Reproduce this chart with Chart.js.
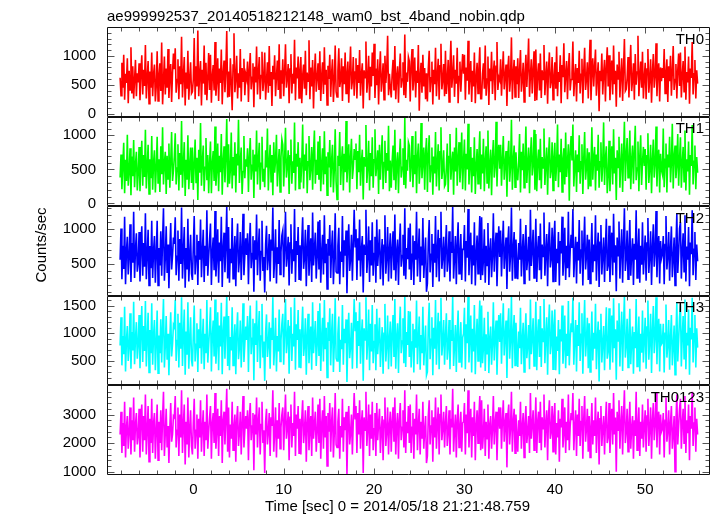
<!DOCTYPE html>
<html><head><meta charset="utf-8">
<script src="https://cdn.jsdelivr.net/npm/chart.js@4.4.0/dist/chart.umd.min.js"></script>
<style>html,body{margin:0;padding:0;background:#fff;}#wrap{width:717px;height:516px;}</style>
</head><body><div id="wrap"><canvas id="c" width="717" height="516"></canvas></div>
<script>
const plotTitle = "ae999992537_20140518212148_wam0_bst_4band_nobin.qdp";
const xTitle = "Time [sec] 0 = 2014/05/18 21:21:48.759";
const yTitle = "Counts/sec";
const panelNames = ["TH0","TH1","TH2","TH3","TH0123"];
const panelColors = ["#ff0000","#00ff00","#0000ff","#00ffff","#ff00ff"];
const timeStart = -8.1, timeBin = 0.1;
const xRange = [-9.55, 57.17];
const xTickLabels = [0,10,20,30,40,50];
const panelMin = [-52, -40, 43, 58, 883];
const panelMax = [1500, 1275, 1330, 1676, 4020];
const yTicksTH0 = [0,500,1000];
const yTicksTH1 = [0,500,1000];
const yTicksTH2 = [500,1000];
const yTicksTH3 = [500,1000,1500];
const yTicksTH0123 = [1000,2000,3000];
const yMajor = [500,500,500,500,1000];
const yMinor = [100,100,100,100,200];

const th0 = [
620,310,880,450,1020,240,690,530,960,180,740,410,1150,350,820,260,590,930,300,700,
540,870,230,690,1010,330,760,480,1190,260,620,910,170,730,450,1060,300,680,850,210,
480,1080,220,650,870,390,1230,160,560,990,330,780,450,1120,270,640,860,200,710,1040,
770,1130,360,590,940,250,820,510,1330,280,660,980,140,710,430,1090,240,600,890,350,
380,590,1310,250,820,470,1440,300,690,910,140,760,520,1180,340,880,230,620,1050,410,
1020,190,650,840,400,1240,310,570,960,220,780,530,1110,160,690,920,370,740,1430,280,
730,290,960,560,60,840,1390,370,610,1000,260,700,450,1120,210,790,560,950,320,680,
600,900,200,760,1050,420,630,870,110,810,540,1160,330,720,980,250,660,1070,390,580,
1060,240,570,890,360,1170,480,720,130,830,590,1010,300,640,920,410,1200,270,750,520,
940,300,710,1200,450,620,860,180,770,1030,350,690,520,1280,230,800,610,990,270,740,
980,180,660,850,430,1090,320,710,560,1270,250,800,470,930,90,690,1040,380,610,870,
410,1080,220,650,890,340,1150,500,760,150,830,600,1020,290,700,940,200,560,1180,380,
290,740,1130,460,580,960,220,820,510,1060,350,670,900,190,740,1160,420,560,980,310,
720,960,260,840,530,1100,310,680,870,90,750,620,1250,360,590,1000,230,810,470,1060,
650,1210,270,780,490,940,160,720,1080,380,600,870,240,1000,530,760,1350,320,690,450,
280,690,930,400,1170,250,640,820,190,730,1040,450,600,890,320,1370,270,710,550,980,
910,210,830,1120,400,610,970,280,740,530,1190,50,650,880,360,1020,470,790,250,700,
210,780,1090,370,620,900,160,760,510,1140,300,670,950,240,830,1210,420,580,860,300,
1090,340,580,930,200,810,1260,450,670,1010,290,760,520,1140,180,640,900,380,720,1030,
690,1020,240,800,570,1260,330,650,910,200,740,470,1060,180,620,880,350,790,1150,260,
260,690,870,430,1180,310,600,990,150,780,560,1070,340,710,920,230,820,1240,410,630,
580,940,310,720,1080,420,660,850,130,770,1000,380,610,1320,250,700,930,290,820,510,
960,270,750,1100,380,590,880,200,700,1020,460,810,1300,290,670,940,350,760,1080,220,
1110,230,680,870,400,1040,270,750,590,1190,320,640,900,170,760,1060,440,560,980,240,
620,890,430,1160,300,720,550,1010,180,840,630,1220,370,680,910,250,780,1050,400,590,
700,1250,300,610,860,210,790,530,1090,350,680,950,180,730,1140,410,600,890,260,820,
1280,230,710,960,470,820,1110,310,650,890,40,740,560,1040,330,700,930,210,800,1150,
470,1010,230,690,920,330,1180,510,740,120,850,600,1070,280,660,960,220,780,1290,390,
420,610,980,280,760,1190,390,580,870,240,1030,500,720,1350,300,640,900,450,1070,260,
620,880,250,770,1120,360,590,940,190,710,1030,450,650,1220,300,740,870,210,800,560,
790,620,1120,350,680,940,200,820,560,1000,310,720,1170,410,590,860,260,740,1040,480,
1060,280,670,910,380,1160,240,720,540,990,170,780,620,1240,330,690,930,260,750,520];

const th1 = [
380,720,210,560,890,150,640,330,1010,260,470,810,120,690,400,930,240,580,760,190,
450,830,180,610,920,260,710,390,1080,220,540,860,140,650,370,990,200,600,780,160,
520,980,300,650,170,840,430,1120,280,590,760,140,700,360,880,230,610,1050,330,480,
690,1030,280,520,870,190,740,420,1210,230,580,900,110,640,350,1000,210,560,820,300,
820,200,560,940,310,670,50,790,450,1180,260,620,850,180,530,960,340,710,150,600,
910,150,590,770,330,1130,260,500,880,180,700,460,1020,130,620,840,310,680,1240,240,
870,290,500,1040,220,680,410,900,160,730,560,1230,300,620,820,140,470,990,370,650,
540,810,170,690,960,350,560,790,80,720,470,1070,280,650,890,200,590,980,320,510,
240,780,530,1100,190,600,860,320,710,120,900,450,640,1010,250,560,800,170,680,940,
860,250,640,1110,380,550,780,140,700,940,290,620,450,1190,190,730,540,900,220,670,
310,590,1160,220,720,480,880,150,610,990,340,530,830,200,750,1070,290,640,420,910,
350,990,180,580,810,280,1060,430,690,120,750,530,930,240,630,860,160,490,1090,320,
60,700,550,1050,270,620,840,190,730,460,1210,310,580,870,160,690,950,360,520,800,
650,880,210,770,460,1010,260,610,790,60,680,550,1150,300,520,920,190,740,400,970,
230,640,1090,400,570,780,140,860,350,690,1000,210,600,920,300,740,480,1140,180,630,
230,620,850,340,1080,200,570,750,150,660,950,380,530,810,270,1260,220,640,480,900,
850,320,560,990,240,710,430,1060,150,670,880,290,540,1180,370,610,820,200,740,960,
170,710,1000,310,550,820,130,690,440,1050,250,600,870,190,760,1120,360,510,780,250,
280,530,880,170,690,1020,350,600,760,130,820,470,1110,260,650,900,310,560,1040,210,
620,940,190,730,500,1170,280,580,830,160,670,400,970,140,550,800,290,720,1060,210,
720,440,950,180,630,840,300,1070,220,570,790,120,680,930,380,540,1200,250,710,860,
510,860,260,650,990,350,590,770,100,700,920,320,540,1230,200,630,850,240,750,440,
340,610,1020,160,760,490,880,230,650,1130,300,590,820,150,700,970,410,560,1080,200,
1020,180,610,790,340,950,220,680,520,1100,270,570,820,130,690,970,370,490,900,190,
670,890,330,580,1160,240,720,460,950,170,640,810,280,1040,390,600,870,40,750,990,
630,1160,250,540,780,170,720,460,1000,290,610,870,140,660,1050,350,530,810,210,750,
260,540,1120,350,680,830,190,720,480,1010,230,610,900,320,570,1190,270,660,840,150,
400,920,180,620,840,280,1090,440,670,50,780,530,980,230,590,880,170,710,1200,330,
700,960,380,590,1070,210,640,850,290,760,1140,340,520,910,180,680,1000,270,600,830,
550,800,200,700,1030,300,520,860,150,640,940,380,580,1130,250,670,790,160,730,490,
430,1100,240,650,880,160,720,530,980,310,600,1170,220,690,850,370,560,1020,260,640,
970,230,600,830,320,1070,190,650,470,910,130,710,550,1150,280,620,850,210,680,450];

const th2 = [
560,1010,280,760,430,1180,210,690,890,350,620,1070,240,800,520,1250,300,710,940,390,
510,960,250,720,1040,330,800,460,1230,280,640,990,190,760,440,1120,300,690,900,230,
650,1120,190,730,480,970,330,860,1300,260,590,1040,370,780,150,690,1090,420,620,880,
790,1170,340,610,980,260,860,500,1310,290,680,1030,160,730,420,1150,250,620,920,360,
270,740,1190,350,610,920,200,830,560,1140,310,680,990,240,760,470,1270,330,600,850,
1080,200,670,880,410,1260,320,590,1000,230,810,540,1180,170,720,950,380,770,1320,290,
1030,230,720,510,1160,290,640,900,180,790,1080,380,560,960,270,710,1220,340,620,870,
630,940,210,790,1090,440,650,900,100,840,560,1210,340,740,1010,260,680,1120,400,600,
90,780,1050,410,600,930,250,850,690,1310,300,580,1000,220,740,500,1130,350,670,910,
980,310,730,1250,460,640,890,190,800,1070,360,710,540,1290,240,830,630,1030,280,770,
260,820,1170,430,590,990,180,730,1060,330,640,870,240,1240,480,700,950,290,610,1110,
420,1130,230,670,920,350,1200,510,790,140,860,620,1060,300,720,980,210,580,1230,390,
370,760,1020,210,680,530,1190,310,840,620,980,80,720,1070,400,580,920,260,800,1280,
750,1000,270,870,550,1140,320,700,900,90,780,640,1280,370,610,1040,240,840,480,1100,
330,650,890,230,1140,470,710,1000,280,620,860,190,770,1200,360,590,1030,250,700,940,
290,710,970,410,1210,260,660,850,200,760,1080,460,620,920,330,1300,280,730,570,1020,
420,1080,270,640,910,200,830,560,1250,320,690,1010,240,750,480,1160,300,610,880,100,
220,810,1130,380,640,930,170,790,520,1190,310,690,990,250,860,1250,430,600,890,310,
730,1060,390,580,970,250,820,660,1320,290,600,900,210,780,1100,360,640,930,270,710,
710,1060,250,830,590,1290,340,670,950,210,770,480,1100,190,640,910,360,820,1190,270,
1170,340,560,1000,230,760,480,1090,200,690,870,310,620,1230,390,740,950,180,650,1040,
600,980,320,750,1120,430,680,880,140,800,1040,390,630,1310,260,720,960,300,850,520,
280,800,560,1150,320,680,930,220,740,1060,410,590,890,260,1280,470,700,990,300,620,
1150,240,700,900,410,1080,280,780,610,1240,330,660,930,180,790,1100,450,580,1020,250,
880,1120,240,720,510,960,190,830,650,1180,330,570,1020,270,760,440,1250,310,690,920,
730,1290,310,630,890,220,820,550,1130,360,700,980,190,760,1180,420,620,920,270,850,
220,640,1090,380,780,540,1200,260,700,950,170,810,1060,350,620,880,240,740,1150,400,
480,1050,240,710,950,340,1220,520,770,110,880,620,1110,290,680,1000,230,810,1300,400,
590,980,280,720,1130,330,650,870,200,790,560,1270,300,680,1010,230,760,490,1100,350,
640,910,260,800,1160,370,610,970,200,740,1070,460,670,1260,310,770,900,220,830,580,
640,900,210,780,1190,420,610,960,260,720,1040,310,580,880,190,750,1220,370,660,1010,
1100,290,690,940,390,1200,250,750,560,1030,180,810,640,1270,340,710,960,270,780,540];

const th3 = [
780,1290,420,950,620,1480,310,870,1130,500,760,1360,360,1020,690,1570,440,900,1200,540,
800,1330,370,1000,1490,480,1130,680,1580,400,910,1370,290,1060,640,1540,430,960,1240,330,
830,1410,280,960,640,1250,470,1100,1620,380,770,1310,520,990,240,880,1380,580,800,1150,
1110,1600,500,870,1350,380,1190,720,1650,410,960,1430,250,1030,610,1560,360,880,1290,520,
400,960,1500,490,800,1180,300,1070,730,1440,450,880,1260,350,990,640,1600,470,790,1090,
1470,310,940,1230,580,1610,450,830,1380,330,1140,760,1550,260,1010,1300,540,1080,1670,410,
1310,330,930,690,1470,420,840,1160,260,1020,1380,530,740,1230,380,920,1540,480,810,1120,
880,1310,300,1100,1500,620,910,1260,150,1180,790,1590,480,1040,1400,370,950,1530,560,850,
140,1010,1340,570,790,1200,360,1100,880,1650,420,760,1280,310,950,670,1430,490,870,1170,
1350,430,1020,1620,640,890,1240,270,1120,1470,500,990,760,1640,340,1160,880,1420,390,1070,
370,1050,1480,590,780,1270,250,940,1350,460,830,1120,340,1560,640,910,1220,410,800,1400,
590,1540,320,930,1280,490,1600,710,1100,200,1200,860,1450,420,1000,1350,300,810,1630,550,
500,990,1300,300,880,710,1510,430,1080,820,1250,120,940,1370,550,760,1190,360,1040,1620,
1050,1380,370,1220,770,1560,450,970,1250,140,1090,880,1650,520,850,1430,330,1170,670,1510,
460,850,1160,330,1440,620,920,1280,390,810,1110,270,1000,1530,490,770,1320,350,910,1210,
400,990,1330,570,1620,360,920,1180,280,1060,1480,640,860,1270,460,1660,390,1020,790,1400,
570,1390,380,840,1170,290,1070,740,1590,440,890,1300,340,970,640,1480,420,790,1140,240,
300,1130,1550,530,890,1290,240,1100,720,1600,430,960,1370,350,1200,1640,600,840,1240,430,
950,1360,520,760,1240,350,1060,860,1660,410,780,1150,300,1010,1410,480,830,1200,380,920,
990,1460,350,1160,820,1670,470,930,1320,290,1080,670,1510,260,890,1260,500,1140,1590,380,
1500,460,740,1280,320,980,630,1390,280,900,1120,430,810,1560,510,960,1230,250,850,1330,
840,1360,450,1050,1540,600,950,1230,190,1120,1450,540,880,1660,370,1000,1330,420,1190,720,
390,1030,730,1460,440,880,1190,300,960,1360,550,770,1150,350,1610,620,910,1270,410,800,
1570,330,980,1250,570,1490,390,1090,850,1620,460,920,1290,250,1100,1520,620,810,1410,350,
1140,1430,330,940,680,1240,260,1070,850,1500,450,750,1320,370,990,590,1580,420,890,1180,
1020,1640,430,880,1240,310,1150,770,1560,500,980,1360,270,1060,1600,580,870,1280,370,1180,
300,840,1390,510,1010,720,1530,350,920,1210,130,1050,1350,470,810,1130,330,960,1470,540,
670,1450,340,990,1320,470,1630,730,1070,160,1230,860,1540,400,950,1390,320,1130,1660,560,
780,1260,380,930,1440,440,850,1120,270,1020,730,1620,400,880,1300,310,990,650,1410,470,
890,1280,360,1110,1590,520,850,1350,280,1040,1490,640,930,1650,440,1080,1260,310,1170,800,
830,1170,290,1000,1520,560,790,1240,340,930,1330,420,760,1140,250,970,1560,490,860,1290,
1520,400,960,1310,540,1610,350,1010,780,1430,250,1100,890,1640,470,990,1330,380,1090,740];

const th0123 = [
2300,3100,1650,2700,1900,3450,1500,2550,2950,1800,2400,3250,1600,2800,2100,3600,1700,2650,3050,1950,
2250,3200,1500,2800,3350,1700,2950,2100,3700,1600,2500,3300,1350,2850,2000,3550,1650,2700,3050,1450,
2450,3350,1400,2750,2000,3150,1750,2900,3800,1550,2350,3200,1850,2600,1300,2500,3400,2050,2300,2950,
2900,3650,1850,2450,3250,1550,3000,2200,3850,1650,2650,3350,1250,2750,1950,3600,1500,2500,3150,1900,
1600,2700,3550,1800,2450,3000,1450,2850,2200,3500,1700,2550,3150,1550,2750,2100,3700,1800,2400,2900,
3300,1450,2700,3050,2000,3750,1800,2450,3200,1550,2950,2250,3500,1300,2800,3100,1950,2850,3900,1700,
3250,1500,2650,2150,3450,1750,2550,3000,1350,2800,3300,1900,2350,3100,1600,2700,3650,1850,2450,2950,
2500,3150,1400,2900,3400,2100,2600,3050,1050,3000,2300,3600,1850,2750,3250,1600,2650,3450,2000,2450,
950,2750,3200,1950,2400,3050,1550,2900,2600,3850,1700,2350,3250,1500,2800,2150,3400,1800,2550,3000,
3250,1750,2800,3700,2150,2550,3100,1400,2900,3350,1850,2700,2250,3800,1550,3000,2500,3300,1650,2850,
1600,2850,3500,2000,2450,3150,1350,2700,3300,1750,2500,2950,1550,3600,2150,2650,3100,1700,2400,3350,
2000,3550,1450,2650,3150,1800,3650,2200,2950,1200,3050,2400,3400,1700,2750,3250,1500,2350,3750,1950,
1850,2750,3200,1450,2600,2200,3550,1700,2900,2450,3100,900,2650,3300,1950,2350,3000,1600,2800,3750,
2850,3300,1650,3050,2300,3500,1800,2700,3150,950,2900,2450,3800,1900,2500,3350,1550,3000,2150,3450,
1750,2500,3050,1550,3400,2100,2700,3200,1650,2450,2950,1400,2800,3600,1900,2400,3250,1600,2650,3100,
1700,2750,3250,2050,3600,1600,2600,3050,1450,2800,3400,2100,2550,3150,1850,3850,1650,2750,2350,3300,
2000,3350,1650,2550,3050,1450,2850,2300,3700,1750,2650,3200,1600,2750,2150,3450,1800,2450,2950,1300,
1550,2950,3500,1950,2600,3150,1350,2900,2200,3600,1800,2700,3250,1600,3000,3700,2100,2500,3100,1850,
2700,3300,1900,2400,3150,1600,2850,2550,3900,1700,2450,3000,1500,2800,3350,1850,2550,3100,1700,2700,
2750,3400,1600,3000,2350,3850,1850,2650,3200,1500,2900,2250,3450,1400,2600,3150,2000,2950,3650,1750,
3500,1800,2350,3200,1550,2750,2150,3350,1450,2650,2950,1800,2500,3650,1950,2700,3100,1400,2550,3250,
2500,3250,1800,2800,3500,2050,2700,3050,1150,2950,3350,1950,2550,3800,1700,2750,3200,1650,3000,2300,
1700,2800,2250,3450,1800,2600,3050,1500,2700,3300,2000,2400,2950,1650,3750,2150,2650,3150,1750,2500,
3600,1650,2750,3100,2000,3450,1750,2900,2500,3700,1850,2650,3150,1400,2950,3500,2150,2400,3300,1700,
2950,3400,1600,2700,2200,3150,1350,2850,2550,3550,1850,2350,3250,1650,2750,2100,3700,1750,2600,3050,
2800,3750,1750,2550,3150,1550,3000,2250,3550,1900,2750,3300,1450,2850,3650,2050,2500,3200,1700,2950,
1500,2550,3400,1950,2800,2250,3600,1650,2700,3100,1250,2850,3300,1900,2500,2950,1600,2750,3450,2000,
2200,3400,1650,2700,3200,1950,3750,2300,2900,1000,3100,2450,3500,1800,2700,3300,1600,2950,3850,2000,
2400,3200,1700,2650,3450,1800,2550,2950,1450,2800,2250,3800,1750,2600,3250,1550,2750,2150,3350,1850,
2600,3150,1700,2950,3550,1900,2500,3250,1450,2800,3400,2100,2650,3750,1850,2900,3100,1600,3000,2400,
2500,3050,1500,2800,3600,2050,2450,3150,1600,2700,3300,1800,2350,2950,1000,2750,3700,1950,2600,3200,
3550,1800,2700,3200,2000,3650,1650,2800,2350,3350,1400,2950,2500,3800,1900,2700,3250,1700,2850,2300];

const series = [th0, th1, th2, th3, th0123];
const yTickSets = [yTicksTH0, yTicksTH1, yTicksTH2, yTicksTH3, yTicksTH0123];
const axisIds = ["yTH0","yTH1","yTH2","yTH3","yTH0123"];
const FONT = '"Liberation Sans", Arial, sans-serif';

function pts(arr){ return arr.map((v,i)=>({x: timeStart + i*timeBin, y: v})); }

const scales = {
  x: {
    type:'linear', position:'bottom', min:xRange[0], max:xRange[1],
    grid:{display:false, drawTicks:false}, border:{display:false},
    ticks:{autoSkip:false, maxRotation:0, padding:6, color:'#000', font:{family:FONT, size:15}, callback: v => String(v)},
    afterBuildTicks: s => { s.ticks = xTickLabels.map(v=>({value:v})); },
    afterFit: s => { s.height = 41; }
  }
};
for (let i = 4; i >= 0; i--) {
  const ticksArr = yTickSets[i];
  scales[axisIds[i]] = {
    type:'linear', position:'left', stack:'panels', stackWeight:1,
    min: panelMin[i], max: panelMax[i],
    grid:{display:false, drawTicks:false}, border:{display:false},
    ticks:{padding:11, color:'#000', font:{family:FONT, size:15}, callback: v => String(v)},
    afterBuildTicks: s => { s.ticks = ticksArr.map(v=>({value:v})); },
    afterFit: s => { s.width = 107; }
  };
}

const framePlugin = {
  id:'frames',
  afterDatasetsDraw(chart){
    const ctx = chart.ctx, ca = chart.chartArea, xs = chart.scales.x;
    ctx.save();
    const L = Math.round(ca.left)+0.5, R = Math.round(ca.right)-0.5;
    axisIds.forEach((id,i) => {
      const s = chart.scales[id];
      const top = Math.round(s.top)+0.5, bot = Math.round(s.bottom)-0.5;
      ctx.strokeStyle = '#555'; ctx.lineWidth = 1;
      ctx.beginPath();
      const st = yMinor[i];
      for (let v = Math.ceil(s.min/st)*st; v <= s.max; v += st) {
        const y = Math.round(s.getPixelForValue(v))+0.5;
        if (y <= top+1 || y >= bot-1) continue;
        const len = (v % yMajor[i] === 0) ? 7 : 4;
        ctx.moveTo(L, y); ctx.lineTo(L+len, y);
        ctx.moveTo(R, y); ctx.lineTo(R-len, y);
      }
      for (let t = -8; t <= 56; t += 2) {
        const x = Math.round(xs.getPixelForValue(t))+0.5;
        const len = (t % 10 === 0) ? 6 : 4;
        ctx.moveTo(x, top); ctx.lineTo(x, top+len);
        ctx.moveTo(x, bot); ctx.lineTo(x, bot-len);
      }
      ctx.stroke();
      ctx.strokeStyle = '#111';
      ctx.beginPath();
      ctx.rect(L, top, R-L, bot-top);
      ctx.stroke();
      ctx.fillStyle = '#000';
      ctx.font = '15px ' + FONT;
      ctx.textAlign = 'right'; ctx.textBaseline = 'alphabetic';
      ctx.fillText(panelNames[i], 704, s.top + 16.5);
    });
    ctx.fillStyle = '#000';
    ctx.font = '15px ' + FONT;
    ctx.textAlign = 'left'; ctx.textBaseline = 'alphabetic';
    ctx.fillText(plotTitle, 107, 20.5);
    ctx.textAlign = 'center';
    ctx.fillText(xTitle, 397.5, 511);
    ctx.save();
    ctx.translate(42, 245);
    ctx.rotate(-Math.PI/2);
    ctx.textBaseline = 'middle';
    ctx.fillText(yTitle, 0, 0);
    ctx.restore();
    ctx.restore();
  }
};

new Chart(document.getElementById('c'), {
  type:'line',
  data:{
    datasets: series.map((arr,i)=>({
      label: panelNames[i], data: pts(arr), yAxisID: axisIds[i],
      borderColor: panelColors[i], borderWidth: 1.6, pointRadius: 0, tension: 0, fill: false
    }))
  },
  options:{
    responsive:false, animation:false, devicePixelRatio:1,
    layout:{padding:{left:0, right:7, top:27, bottom:0}},
    plugins:{legend:{display:false}, tooltip:{enabled:false}, title:{display:false}},
    scales
  },
  plugins:[framePlugin]
});
</script></body></html>
